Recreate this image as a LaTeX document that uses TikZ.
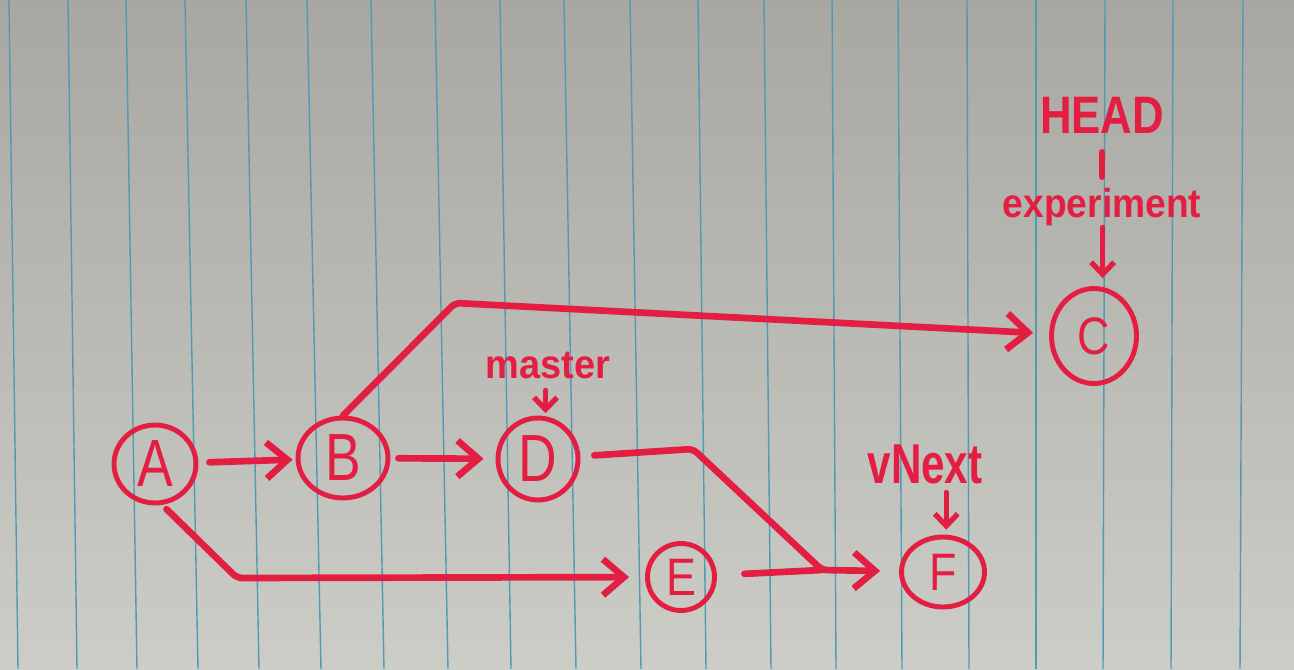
\documentclass[tikz,border=0pt]{standalone}
\usepackage{fontspec}
\setmainfont{Liberation Sans}
\usetikzlibrary{shapes.geometric,arrows.meta,calc}
\definecolor{ink}{RGB}{228,30,66}
\definecolor{rulecol}{RGB}{80,155,180}
\definecolor{papertop}{RGB}{168,167,162}
\definecolor{papermid}{RGB}{199,199,194}
\definecolor{paperbot}{RGB}{205,205,200}
\begin{document}
\begin{tikzpicture}[x=0.02cm,y=-0.02cm,
  commit/.style={ellipse, draw=ink, line width=2.8pt, inner sep=0pt, text=ink},
  bigletter/.style={font=\fontsize{38}{38}\selectfont},
  smallletter/.style={font=\fontsize{30}{30}\selectfont},
  tag/.style={text=ink, inner sep=0pt, anchor=base, text depth=0pt},
  edge/.style={draw=ink, line width=3.8pt, line cap=round, line join=round, rounded corners=3pt},
  arrow/.style={edge, -{Straight Barb[length=0.42cm,width=0.72cm]}},
  ptr/.style={draw=ink, line width=3pt, line cap=round, -{Straight Barb[length=0.24cm,width=0.46cm]}}
]
% paper
\useasboundingbox (0,0) rectangle (1294,669);
\shade[top color=papertop, middle color=papermid, bottom color=paperbot] (0,0) rectangle (1294,669);
\foreach \t/\b in {9/18,68/77,126/137,185/198,246/259,307/321,371/384,435/448,500/511,564/576,630/641,698/706,764/771,832/836,898/902,967/969,1036/1036,1105/1103,1173/1171,1243/1240}
  \draw[rulecol, line width=0.8pt] (\t,0) -- (\b,669);

% commits
\node[commit, bigletter, minimum width=1.64cm, minimum height=1.56cm] (A) at (155,464) {\scalebox{0.8}[1]{A}};
\node[commit, bigletter, minimum width=1.8cm, minimum height=1.6cm] (B) at (343,458) {\scalebox{0.8}[1]{B}};
\node[commit, bigletter, minimum width=1.6cm, minimum height=1.64cm] (D) at (538,459) {\scalebox{0.8}[1]{D}};
\node[commit, smallletter, minimum width=1.7cm, minimum height=1.9cm] (C) at (1094,336) {\scalebox{0.85}[1]{C}};
\node[commit, smallletter, minimum width=1.34cm, minimum height=1.34cm] (E) at (681,577) {\scalebox{0.85}[1]{E}};
\node[commit, smallletter, minimum width=1.66cm, minimum height=1.4cm] (F) at (943,572) {\scalebox{0.85}[1]{F}};

% labels
\node[tag, font=\bfseries\fontsize{30}{30}\selectfont, text height=0.76cm] (head) at (1102,133) {\scalebox{0.83}[1]{HEAD}};
\node[tag, font=\bfseries\fontsize{23}{23}\selectfont, text height=0.4cm] (exp) at (1102,217) {\scalebox{0.92}[1]{experiment}};
\node[tag, font=\bfseries\fontsize{23}{23}\selectfont, text height=0.36cm] (master) at (548,378) {\scalebox{0.94}[1]{master}};
\node[tag, font=\bfseries\fontsize{32}{32}\selectfont, text height=0.86cm] (vnext) at (925,483) {\scalebox{0.75}[1]{vNext}};

% label pointers
\draw[edge, shorten <=0.38cm, shorten >=0.4cm] (head.south) -- (exp.north);
\draw[ptr, shorten <=0.2cm, shorten >=0.18cm] (exp.south -| C.80) -- (C.80);
\draw[ptr, shorten <=0.24cm, shorten >=0.06cm] (master.south -| D.80) -- (D.80);
\draw[ptr, shorten <=0.18cm, shorten >=0.1cm] (vnext.south -| F.85) -- (F.85);

% bend points
\coordinate (bc) at (455,303);
\coordinate (ab) at (237,578);
\coordinate (db) at (693,449);
\coordinate (mg) at (822,570);

% history
\draw[arrow, shorten <=0.22cm, shorten >=0.06cm] (A) -- (B);
\draw[arrow, shorten <=0.16cm, shorten >=0.24cm] (B) -- (D);
\draw[arrow, shorten >=0.32cm] (B.north) -- (bc) -- (C);
\draw[arrow, shorten <=0.12cm, shorten >=0.32cm] (A.-80) -- (ab) -- (E);
\draw[arrow, shorten <=0.28cm, shorten >=0.38cm] (D) -- (db) -- (mg) -- (F);
\draw[edge, shorten <=0.55cm] (E) -- (mg);
\end{tikzpicture}
\end{document}
